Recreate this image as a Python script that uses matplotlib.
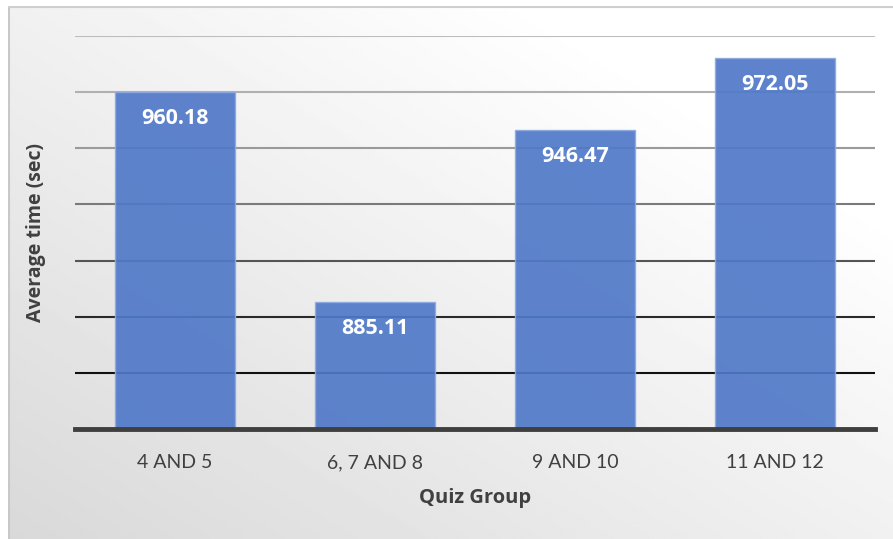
import numpy as np
import matplotlib
matplotlib.use('Agg')
import matplotlib.pyplot as plt

# data
groups = ['4 AND 5', '6, 7 AND 8', '9 AND 10', '11 AND 12']
avg_time = [960.18, 885.11, 946.47, 972.05]
grid_vals = [860, 880, 900, 920, 940, 960, 980]

plt.rcParams['font.family'] = ['Lato', 'DejaVu Sans']
bold_font = ['Open Sans', 'DejaVu Sans']

fig = plt.figure(figsize=(8.93, 5.39), dpi=100)

# gradient background of the chart area (white top right -> grey bottom left)
bg = fig.add_axes([8/893, 0, 1 - 8/893, 1 - 6/539])
yy, xx = np.mgrid[0:1:200j, 0:1:300j]
shade = 0.85 + 0.15 * np.clip((xx + yy) / 1.6, 0, 1)
bg.imshow(shade, cmap='gray', vmin=0, vmax=1, aspect='auto', origin='lower',
          extent=[0, 1, 0, 1])
bg.set_xlim(0, 1)
bg.set_ylim(0, 1)
bg.axis('off')
bg.plot([0.001, 0.001], [0, 1], color='#c8c8c8', lw=1.5)
bg.plot([0, 1], [0.999, 0.999], color='#cfcfcf', lw=1.5)

ax = fig.add_axes([75/893, 1 - 429/539, 800/893, (429 - 36)/539])
ax.patch.set_alpha(0)

# gridlines get darker towards the bottom
grid_cols = ['#111111', '#2a2a2a', '#555555', '#7a7a7a', '#9a9a9a', '#b0b0b0', '#bdbdbd']
for v, c in zip(grid_vals, grid_cols):
    ax.axhline(v, color=c, lw=1.5, zorder=1)

x = np.arange(len(groups))
bars = ax.bar(x, avg_time, width=0.6, color='#5079c8', alpha=0.92,
              edgecolor='#8eaae0', linewidth=1, zorder=2)

for xi, v in zip(x, avg_time):
    ax.annotate(f'{v:.2f}', (xi, v), xytext=(0, -19), textcoords='offset points',
                ha='center', va='center', color='white', fontsize=15.5,
                fontweight='bold', family=bold_font, zorder=3)

ax.set_xlim(-0.5, 3.5)
ax.set_ylim(840, 980)
ax.axhline(840, color='#3f3f3f', lw=3.5, zorder=4, clip_on=False)
for s in ax.spines.values():
    s.set_visible(False)
ax.set_yticks([])
ax.set_xticks(x)
ax.set_xticklabels(groups, fontsize=14, color='#404040')
ax.tick_params(axis='x', length=0, pad=18)
ax.set_xlabel('Quiz Group', fontsize=14.5, fontweight='bold', family=bold_font,
              color='#404040', labelpad=12)
ax.set_ylabel('Average time (sec)', fontsize=14, fontweight='bold', family=bold_font,
              color='#404040', labelpad=21)

fig.savefig('out.png', dpi=100)
